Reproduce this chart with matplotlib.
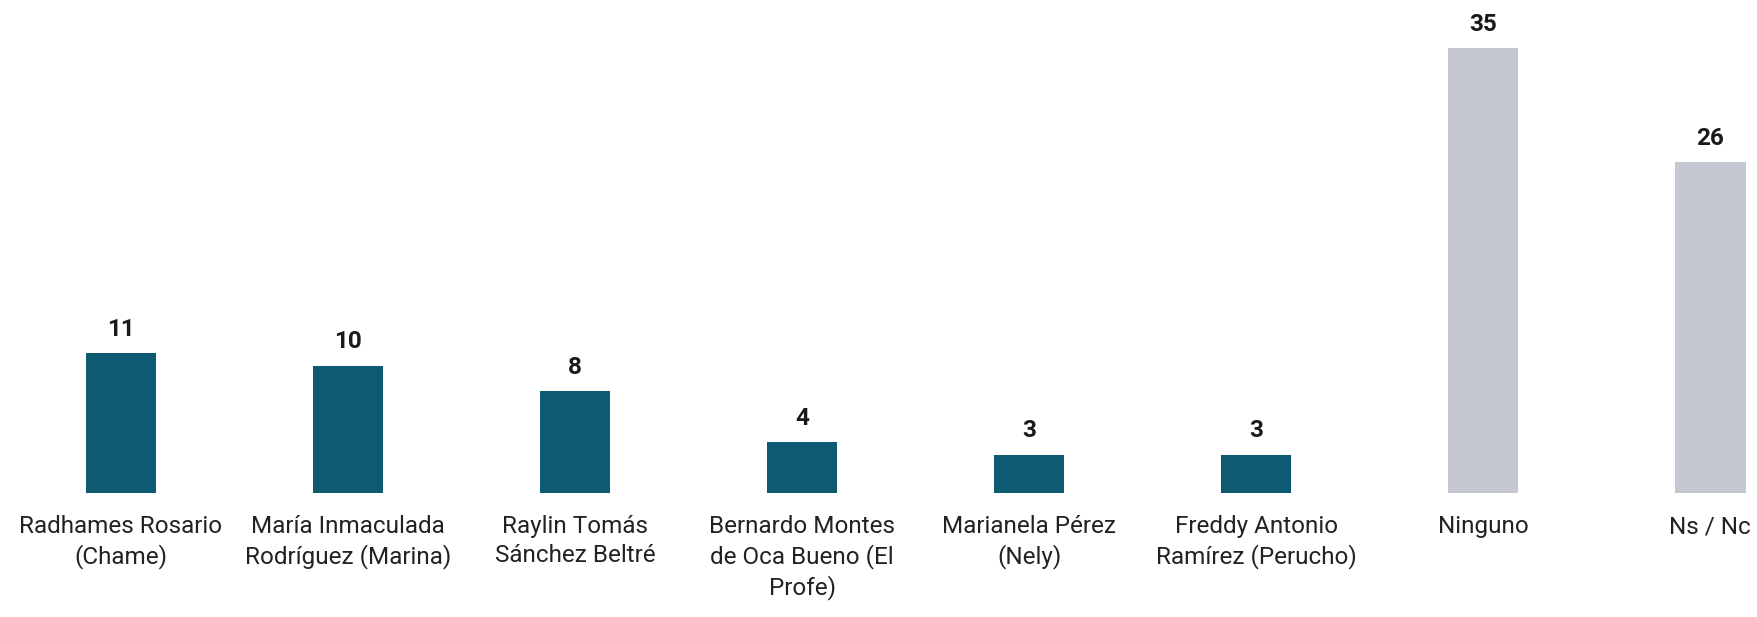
import matplotlib.pyplot as plt

plt.rcParams['font.family'] = ['Roboto', 'DejaVu Sans']

candidatos = ["Radhames Rosario\n(Chame)", "María Inmaculada\nRodríguez (Marina)",
              "Raylin Tomás\nSánchez Beltré", "Bernardo Montes\nde Oca Bueno (El\nProfe)",
              "Marianela Pérez\n(Nely)", "Freddy Antonio\nRamírez (Perucho)",
              "Ninguno", "Ns / Nc"]
valores = [11, 10, 8, 4, 3, 3, 35, 26]
colores = ["#0e5a72"] * 6 + ["#c4c7d0"] * 2

fig = plt.figure(figsize=(17.58, 6.17), dpi=100)
ax = fig.add_axes([0, 0.201, 1, 0.783])

x = range(len(valores))
bars = ax.bar(x, valores, width=0.31, color=colores)
for b, v in zip(bars, valores):
    ax.annotate(str(v), (b.get_x() + b.get_width() / 2, v), xytext=(0, 9),
                textcoords="offset points", ha="center", va="bottom",
                fontsize=17.5, fontweight="bold", color="#1a1a1a")

ax.set_xlim(-0.533, 7.21)
ax.set_ylim(0, 38)
ax.set_xticks(list(x))
ax.set_xticklabels(candidatos, fontsize=17.5, color="#222222", linespacing=1.32)
ax.tick_params(axis="x", length=0, pad=16)
ax.set_yticks([])
for s in ax.spines.values():
    s.set_visible(False)

fig.savefig("out.png", dpi=100)
